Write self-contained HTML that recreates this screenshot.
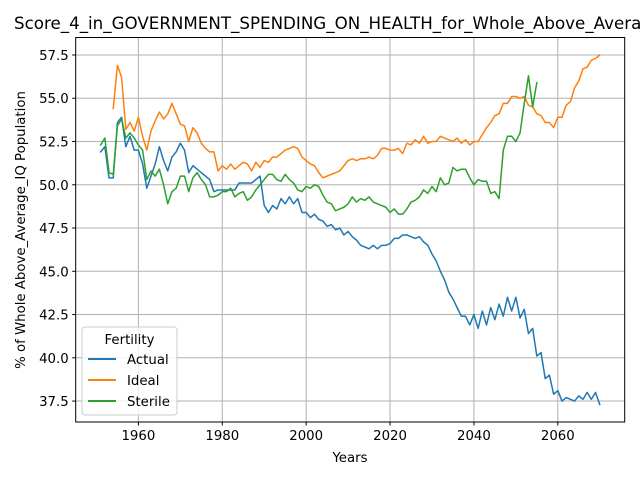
<!DOCTYPE html>
<html><head><meta charset="utf-8"><style>
body{margin:0;background:#fff;}
svg{font-family:"DejaVu Sans","Liberation Sans",sans-serif;}
</style></head><body>
<svg id="chart" width="640" height="480" viewBox="0 0 640 480" xmlns="http://www.w3.org/2000/svg">
<rect width="640" height="480" fill="#fff"/>
<g id="grid"></g>
<g id="series"></g>
<rect x="75.7" y="37.5" width="549" height="384.5" fill="none" stroke="#000" stroke-width="1"/>
<g id="ticks" font-size="13.3" fill="#000"></g>
<text x="14" y="29" font-size="16.7" text-anchor="start">Score_4_in_GOVERNMENT_SPENDING_ON_HEALTH_for_Whole_Above_Average_IQ_Population</text>
<text x="350" y="462" font-size="13.3" text-anchor="middle">Years</text>
<text x="25" y="230" font-size="13.3" text-anchor="middle" transform="rotate(-90 25 230)">% of Whole Above_Average_IQ Population</text>
<g>
<rect x="82" y="327" width="95" height="88" rx="3" fill="#fff" fill-opacity="0.8" stroke="#ccc"/>
<text x="129.5" y="344" font-size="13.3" text-anchor="middle">Fertility</text>
<line x1="88" y1="359" x2="116" y2="359" stroke="#1f77b4" stroke-width="2"/>
<text x="127" y="364" font-size="13.3">Actual</text>
<line x1="88" y1="380" x2="116" y2="380" stroke="#ff7f0e" stroke-width="2"/>
<text x="127" y="385" font-size="13.3">Ideal</text>
<line x1="88" y1="401" x2="116" y2="401" stroke="#2ca02c" stroke-width="2"/>
<text x="127" y="406" font-size="13.3">Sterile</text>
</g>
</svg>
<script>
const xTicks=[1960,1980,2000,2020,2040,2060];
const yTicks=[37.5,40.0,42.5,45.0,47.5,50.0,52.5,55.0,57.5];
const actualStart=1951;
const actual=[51.9,52.2,50.4,50.4,53.6,53.9,52.2,52.8,52.0,52.0,51.2,49.8,50.5,51.2,52.2,51.4,50.8,51.6,51.9,52.4,52.0,50.7,51.1,50.9,50.7,50.5,50.3,49.6,49.7,49.7,49.7,49.7,49.7,50.1,50.1,50.1,50.1,50.3,50.5,48.8,48.4,48.8,48.6,49.2,48.9,49.3,48.9,49.2,48.4,48.4,48.1,48.3,48.0,47.9,47.6,47.7,47.4,47.5,47.1,47.3,47.0,46.8,46.5,46.4,46.3,46.5,46.3,46.5,46.5,46.6,46.9,46.9,47.1,47.1,47.0,46.9,47.0,46.7,46.5,46.0,45.6,45.0,44.5,43.8,43.4,42.9,42.4,42.4,41.9,42.5,41.7,42.7,41.9,42.9,42.2,43.1,42.4,43.5,42.7,43.5,42.3,42.8,41.4,41.7,40.1,40.3,38.8,39.0,37.9,38.1,37.5,37.7,37.6,37.5,37.8,37.6,38.0,37.6,38.0,37.3];
const idealStart=1954;
const ideal=[54.4,56.9,56.2,53.2,53.6,53.1,53.9,52.8,52.0,53.1,53.7,54.2,53.8,54.1,54.7,54.1,53.5,53.4,52.5,53.3,53.0,52.4,52.1,51.9,51.9,50.8,51.1,50.9,51.2,50.9,51.1,51.3,51.2,50.8,51.3,51.0,51.4,51.3,51.6,51.6,51.8,52.0,52.1,52.2,52.1,51.6,51.4,51.2,51.1,50.7,50.4,50.5,50.6,50.7,50.8,51.1,51.4,51.5,51.4,51.5,51.5,51.6,51.5,51.7,52.1,52.1,52.0,52.0,52.1,51.8,52.4,52.3,52.6,52.4,52.8,52.4,52.5,52.5,52.8,52.7,52.6,52.5,52.7,52.4,52.6,52.3,52.5,52.5,52.9,53.3,53.6,54.0,54.1,54.7,54.7,55.1,55.1,55.0,55.1,54.6,54.5,54.1,54.0,53.6,53.6,53.3,53.9,53.9,54.6,54.8,55.6,56.0,56.7,56.8,57.2,57.3,57.5];
const sterileStart=1951;
const sterile=[52.3,52.7,50.7,50.6,53.4,53.8,52.7,53.0,52.7,52.3,52.0,50.3,50.8,50.5,50.9,50.0,48.9,49.6,49.8,50.5,50.5,49.6,50.4,50.7,50.3,50.0,49.3,49.3,49.4,49.6,49.6,49.8,49.3,49.5,49.6,49.1,49.3,49.7,50.0,50.3,50.6,50.6,50.3,50.2,50.6,50.3,50.1,49.7,49.6,49.9,49.8,50.0,49.9,49.4,49.0,48.9,48.5,48.6,48.7,48.9,49.3,49.0,49.2,49.1,49.3,49.0,48.9,48.8,48.7,48.4,48.6,48.3,48.3,48.6,49.0,49.1,49.3,49.7,49.5,49.9,49.6,50.4,50.0,50.1,51.0,50.8,50.9,50.9,50.4,50.0,50.3,50.2,50.2,49.5,49.6,49.2,52.0,52.8,52.8,52.5,53.0,54.7,56.3,54.5,55.9];

const L=75.7,R=624.7,T=37.5,B=422;
const xMin=1945.05,xMax=2075.95,yMin=36.29,yMax=58.51;
const sx=v=>L+(v-xMin)/(xMax-xMin)*(R-L);
const sy=v=>B-(v-yMin)/(yMax-yMin)*(B-T);
const NS='http://www.w3.org/2000/svg';
const grid=document.getElementById('grid'),ticks=document.getElementById('ticks'),ser=document.getElementById('series');
function mk(tag,attrs,parent){const e=document.createElementNS(NS,tag);for(const k in attrs)e.setAttribute(k,attrs[k]);parent.appendChild(e);return e;}
xTicks.forEach(t=>{
  const x=sx(t);
  const g=mk('line',{x1:x,x2:x,y1:T,y2:B,stroke:'#b0b0b0','stroke-width':1},grid);
  
  
  const tk=mk('line',{x1:x,x2:x,y1:B,y2:B+3.5,stroke:'#000'},ticks);
  
  
  const lb=mk('text',{x:x,y:B+18,'text-anchor':'middle'},ticks);lb.textContent=t;
  
  
});
yTicks.forEach(t=>{
  const y=sy(t);
  const g=mk('line',{x1:L,x2:R,y1:y,y2:y,stroke:'#b0b0b0','stroke-width':1},grid);
  
  
  const tk=mk('line',{x1:L-3.5,x2:L,y1:y,y2:y,stroke:'#000'},ticks);
  
  
  const lb=mk('text',{x:L-7,y:y+5,'text-anchor':'end'},ticks);lb.textContent=t.toFixed(1);
  
  
});
function line(arr,start,color,name){
  const d=arr.map((v,i)=>(i?'L':'M')+sx(start+i).toFixed(2)+' '+sy(v).toFixed(2)).join(' ');
  const p=mk('path',{d:d,fill:'none',stroke:color,'stroke-width':1.5,'stroke-linejoin':'round','stroke-linecap':'square'},ser);
  
  
}
line(actual,actualStart,'#1f77b4','actual-line');
line(ideal,idealStart,'#ff7f0e','ideal-line');
line(sterile,sterileStart,'#2ca02c','sterile-line');
</script>
</body></html>
